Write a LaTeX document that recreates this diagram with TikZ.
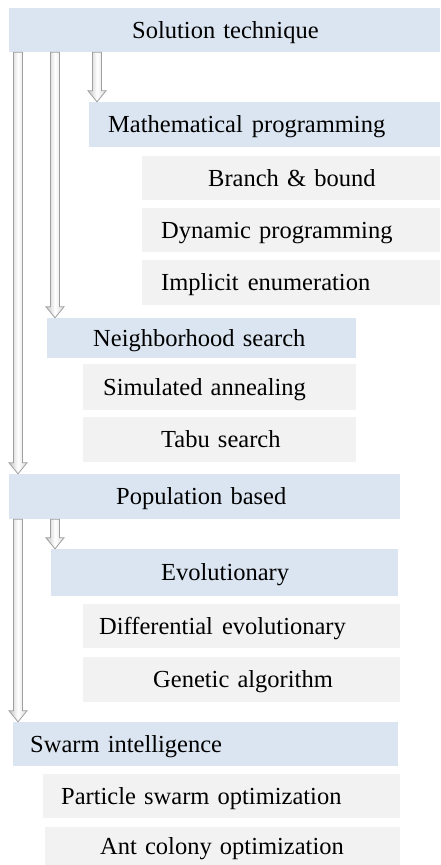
\documentclass[tikz,border=0pt]{standalone}
\usepackage{fontspec}
\setmainfont{Liberation Serif}
\usepackage{tikz}
\usetikzlibrary{calc}
\definecolor{headblue}{HTML}{DBE5F1}
\definecolor{itemgray}{HTML}{F2F2F2}
\tikzset{
    techbox/.append style={anchor=west,inner xsep=0pt,inner ysep=0pt,align=left,text height=20pt,text depth=4pt,font=\fontsize{24.5}{29}\selectfont},
    headbox/.append style={techbox,fill=headblue},
    itembox/.append style={techbox,fill=itemgray},
    pad/.style={execute at begin node={\hspace*{#1pt}}},
    arrowbody/.append style={draw=gray!75,line width=0.8pt,left color=gray!45,right color=gray!30,middle color=white},
}
% hollow block arrow at x, from the bottom of #2 to the top of #3
\newcommand{\hollowarrow}[3]{%
    \path (#1,0 |- #2.south) coordinate (hs) (#1,0 |- #3.north) coordinate (he);
    \path[arrowbody] ($(hs)+(-4.5,0)$) -- ($(he)+(-4.5,-11)$) -- ($(he)+(-9,-11)$) -- (he)
        -- ($(he)+(9,-11)$) -- ($(he)+(4.5,-11)$) -- ($(hs)+(4.5,0)$) -- cycle;
}
\newcommand{\wsp}{\hspace{9pt}}
\begin{document}
\begin{tikzpicture}[x=1pt,y=-1pt]
\useasboundingbox (0,0) rectangle (440,865);

           \node[headbox,text width=431pt,minimum height=44pt,pad=123] (sol) at (9,30) {Solution technique};
           \node[headbox,text width=351pt,minimum height=45pt,pad=19] (math) at (89,124.5) {Mathematical\wsp programming};
           \node[itembox,text width=298pt,minimum height=44pt,pad=66] (bb) at (142,178) {Branch \& bound};
           \node[itembox,text width=298pt,minimum height=44pt,pad=19] (dp) at (142,230) {Dynamic programming};
           \node[itembox,text width=298pt,minimum height=45pt,pad=19] (ie) at (142,282.5) {Implicit\wsp enumeration};

           \node[headbox,text width=309pt,minimum height=40pt,pad=46] (ns) at (47,338) {Neighborhood search};
           \node[itembox,text width=273pt,minimum height=46pt,pad=20] (sa) at (83,387) {Simulated annealing};
           \node[itembox,text width=273pt,minimum height=45pt,pad=78] (ts) at (83,439.5) {Tabu search};

           \node[headbox,text width=391pt,minimum height=45pt,pad=107] (pop) at (9,496.5) {Population based};
           \node[headbox,text width=347pt,minimum height=47pt,pad=110] (evo) at (51,572.5) {Evolutionary};
           \node[itembox,text width=317pt,minimum height=44pt,pad=16] (de) at (83,626) {Differential\wsp evolutionary};
           \node[itembox,text width=317pt,minimum height=45pt,pad=70] (ga) at (83,679.5) {Genetic algorithm};

           \node[headbox,text width=385pt,minimum height=44pt,pad=17] (sw) at (13,744) {Swarm intelligence};
           \node[itembox,text width=357pt,minimum height=44pt,pad=18] (pso) at (43,796) {Particle swarm optimization};
           \node[itembox,text width=355pt,minimum height=38pt,pad=55] (aco) at (45,846) {Ant colony optimization};

\hollowarrow{18}{sol}{pop}
\hollowarrow{55}{sol}{ns}
\hollowarrow{97}{sol}{math}
\hollowarrow{18}{pop}{sw}
\hollowarrow{55}{pop}{evo}

       \end{tikzpicture}
\end{document}
